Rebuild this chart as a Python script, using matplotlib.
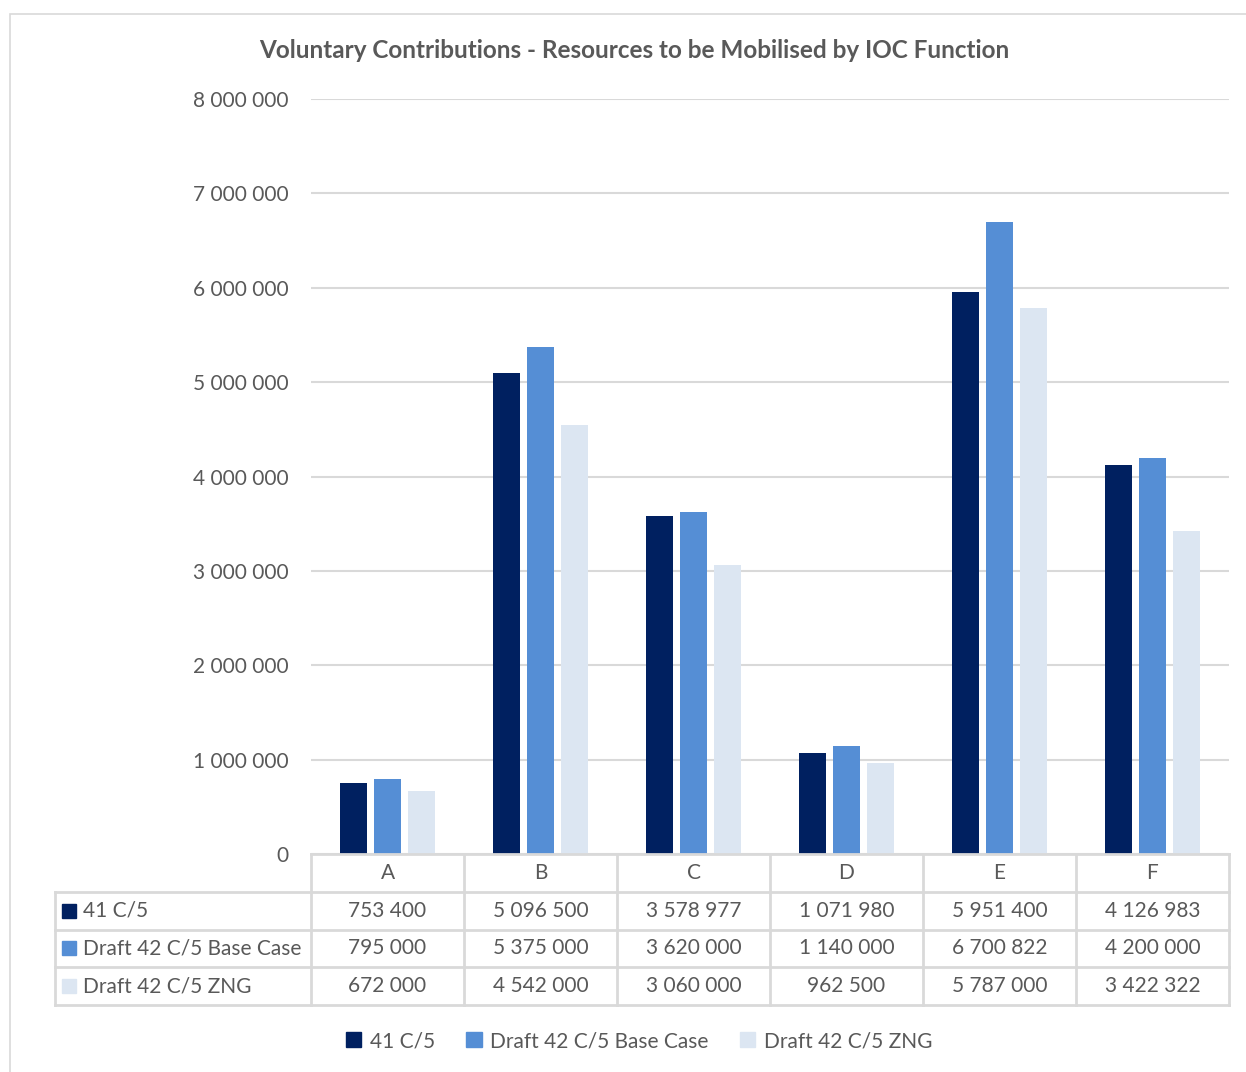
import matplotlib
matplotlib.use('Agg')
import matplotlib.pyplot as plt
from matplotlib.patches import Rectangle
import numpy as np

categories = ['A', 'B', 'C', 'D', 'E', 'F']
series_names = ['41 C/5', 'Draft 42 C/5 Base Case', 'Draft 42 C/5 ZNG']
c5_41 = [753400, 5096500, 3578977, 1071980, 5951400, 4126983]
base_case_42 = [795000, 5375000, 3620000, 1140000, 6700822, 4200000]
zng_42 = [672000, 4542000, 3060000, 962500, 5787000, 3422322]
y_ticks = [0, 1000000, 2000000, 3000000, 4000000, 5000000, 6000000, 7000000, 8000000]

colors = ['#002060', '#558ED5', '#DCE6F2']
text_color = '#595959'
line_color = '#D9D9D9'

plt.rcParams['font.family'] = ['Lato', 'DejaVu Sans']


def fmt(v):
    return f'{v:,}'.replace(',', ' ')


W, H = 1246, 1072
fig = plt.figure(figsize=(W / 100, H / 100), dpi=100)


def box(x0, y0, x1, y1):
    # pixel box (top-left origin) -> figure fraction rect
    return [x0 / W, 1 - y1 / H, (x1 - x0) / W, (y1 - y0) / H]


# chart border
fig.patches.append(Rectangle((10 / W, -0.01), 1.0, 1 - 14 / H + 0.01,
                             transform=fig.transFigure, fill=False,
                             edgecolor=line_color, linewidth=1.2))

ax_left, ax_right, ax_top, ax_bottom = 311, 1229, 99, 854
ax = fig.add_axes(box(ax_left, ax_top, ax_right, ax_bottom))

data = [c5_41, base_case_42, zng_42]
x = np.arange(len(categories))
width = 0.176
step = 0.22
for i, (vals, col) in enumerate(zip(data, colors)):
    ax.bar(x + (i - 1) * step, vals, width, color=col, zorder=3)

ax.set_xlim(-0.5, len(categories) - 0.5)
ax.set_ylim(0, 8000000)
ax.set_yticks(y_ticks)
ax.set_yticklabels([fmt(v) for v in y_ticks], fontsize=15, color=text_color)
ax.tick_params(axis='y', length=0, pad=16)
ax.set_xticks([])
ax.grid(axis='y', color=line_color, linewidth=1.5, zorder=0)
for s in ['top', 'right', 'left', 'bottom']:
    ax.spines[s].set_visible(False)

# data table under the plot
tbl_left, tbl_bottom = 55, 1005
cat_px = (ax_right - ax_left) / len(categories)
left_ext = (ax_left - tbl_left) / cat_px
tax = fig.add_axes(box(tbl_left, ax_bottom, ax_right, tbl_bottom))
tax.set_xlim(-0.5 - left_ext, len(categories) - 0.5)
tax.set_ylim(4, 0)
tax.axis('off')

lw = 2.0
edges = np.arange(len(categories) + 1) - 0.5
for xe in edges:
    tax.plot([xe, xe], [0, 4], color=line_color, lw=lw, clip_on=False)
tax.plot([-0.5 - left_ext] * 2, [1, 4], color=line_color, lw=lw, clip_on=False)
tax.plot([-0.5, len(categories) - 0.5], [0, 0], color=line_color, lw=lw, clip_on=False)
for yr in [1, 2, 3, 4]:
    tax.plot([-0.5 - left_ext, len(categories) - 0.5], [yr, yr],
             color=line_color, lw=lw, clip_on=False)

for j, cat in enumerate(categories):
    tax.text(j, 0.5, cat, ha='center', va='center', fontsize=15, color=text_color)
for i, (name, vals, col) in enumerate(zip(series_names, data, colors)):
    yr = i + 1.5
    tax.plot(-0.5 - left_ext + 0.09, yr, marker='s', markersize=10,
             color=col, clip_on=False, linestyle='none')
    tax.text(-0.5 - left_ext + 0.185, yr, name, ha='left', va='center',
             fontsize=15, color=text_color)
    for j, v in enumerate(vals):
        tax.text(j, yr, fmt(v), ha='center', va='center', fontsize=15,
                 color=text_color)

fig.text(634 / W, 1 - 51 / H,
         'Voluntary Contributions - Resources to be Mobilised by IOC Function',
         ha='center', va='center', fontsize=17.5, fontweight='bold', color=text_color)

handles = [Rectangle((0, 0), 1, 1, color=c) for c in colors]
leg = fig.legend(handles, series_names, loc='center', bbox_to_anchor=(639 / W, 1 - 1041 / H),
                 ncol=3, frameon=False, fontsize=15, handlelength=0.75, handleheight=0.75,
                 handletextpad=0.4, columnspacing=1.5)
for t in leg.get_texts():
    t.set_color(text_color)

fig.savefig('out.png', dpi=100)
